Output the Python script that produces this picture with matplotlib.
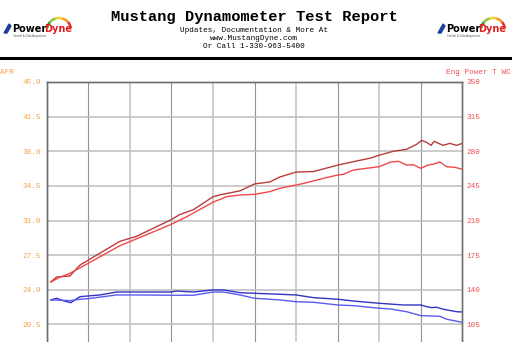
import matplotlib
matplotlib.use("Agg")
import matplotlib.pyplot as plt
from matplotlib.patches import Arc, Polygon
import numpy as np

# Dyno runs (RPM, value on the right-hand scale)
rpm_pwr_a = [2050, 2120, 2280, 2400, 2500, 2880, 3080, 3500, 3600, 3765, 4000, 4085, 4325,
             4500, 4685, 4805, 5000, 5210, 5500, 5690, 5890, 6000, 6170, 6330, 6450, 6510,
             6570, 6625, 6660, 6770, 6850, 6930, 7000]
pwr_a = [148, 153, 154, 165, 170, 189, 194, 211, 216, 221, 234, 236, 240,
         247, 249, 254, 259, 259.5, 266, 269.5, 273, 276, 280, 282, 287, 291,
         289, 286, 290, 286, 288, 286, 288]

rpm_pwr_b = [2050, 2160, 2280, 2500, 2880, 3000, 3500, 3685, 4000, 4165, 4325, 4500, 4685,
             4805, 5000, 5130, 5330, 5500, 5570, 5690, 6000, 6130, 6230, 6330, 6410, 6500,
             6590, 6650, 6730, 6810, 6910, 7000]
pwr_b = [148, 152.7, 156.7, 166.8, 184.6, 188.7, 206.2, 213.9, 228.5, 234.1, 235.8, 236.5, 239.2,
         242.6, 245.9, 248.3, 252.7, 256, 256.7, 261.1, 264.4, 268.9, 269.9, 266.1, 266.4, 262.8,
         266.1, 266.9, 269.2, 264.4, 263.8, 261.8]

rpm_blue_a = [2050, 2120, 2200, 2290, 2400, 2500, 2640, 2840, 3120, 3500, 3560, 3765, 4000,
              4125, 4325, 4500, 4805, 5000, 5210, 5500, 5690, 6000, 6290, 6500, 6570, 6630,
              6690, 6770, 6930, 7000]
blue_a = [129.8, 131.5, 129.0, 127.0, 133.1, 133.8, 134.8, 137.8, 137.8, 137.8, 138.8, 137.8, 139.9,
          139.9, 137.1, 136.5, 135.5, 134.8, 132.1, 130.5, 128.7, 126.4, 124.7, 124.7, 123.0, 122.0,
          122.4, 120.4, 117.9, 117.6]

rpm_blue_b = [2050, 2290, 2400, 2500, 2840, 3120, 3500, 3765, 4000, 4125, 4325, 4500, 4805,
              5000, 5210, 5500, 5690, 6000, 6130, 6330, 6500, 6730, 6810, 7000]
blue_b = [129.8, 129.1, 130.5, 131.1, 134.8, 134.8, 134.5, 134.5, 137.8, 137.8, 134.8, 131.5, 129.8,
          128.0, 127.4, 124.7, 124.0, 121.4, 120.7, 117.9, 113.9, 113.3, 110.3, 107.2]

afr_ticks = np.arange(20.5, 45.01, 3.5)
pwr_ticks = np.arange(105, 350.1, 35)
rpm_grid = np.arange(2500, 7000, 500)

W, H = 512, 342
fig = plt.figure(figsize=(W / 100, H / 100), dpi=100)
mono = "Liberation Mono"

# header
fig.text(254 / W, 1 - 17 / H, "Mustang Dynamometer Test Report", family=mono, weight="bold",
         fontsize=11.1, ha="center", va="center")
for i, s in enumerate(["Updates, Documentation & More At", "www.MustangDyne.com",
                       "Or Call 1-330-963-5400"]):
    fig.text(254 / W, 1 - (30.5 + 8.2 * i) / H, s, family=mono, fontsize=5.5,
             ha="center", va="center")
fig.add_artist(plt.Line2D([0, 1], [1 - 57.5 / H, 1 - 57.5 / H], color="black", lw=2.2))


def logo(x0):
    # simple stand-in for the PowerDyne logo, drawn in a 72x30 px box
    la = fig.add_axes([x0 / W, 1 - 42 / H, 72 / W, 30 / H])
    la.set_xlim(0, 72)
    la.set_ylim(0, 30)
    la.axis("off")
    cols = ["#2b9a3a", "#8cc63f", "#f2d22e", "#f39a1e", "#e5322d"]
    for k, c in enumerate(cols):
        la.add_patch(Arc((56, 12), 24, 24, theta1=170 - 32 * (k + 1),
                         theta2=170 - 32 * k, color=c, lw=1.8))
    la.add_patch(Polygon([[1, 9], [6, 18], [8, 16], [4, 9]], closed=True, color="#2040a0"))
    la.text(9, 13, "Power", fontsize=7, weight="bold", color="black", ha="left", va="center")
    la.text(41, 13, "Dyne", fontsize=7, weight="bold", color="#e02020", ha="left", va="center")
    la.text(10, 6, "Control & Data Acquisition", fontsize=1.8, color="#444444", ha="left",
            va="center")


logo(3)
logo(437)

ax = fig.add_axes([46.7 / W, 1 - 359.1 / H, 415.6 / W, 277.1 / H])
ax2 = ax.twinx()
ax.set_xlim(2000, 7000)
ax.set_ylim(17.0, 45.0)
ax2.set_ylim(70, 350)
ax.set_xticks([])
ax.set_yticks(afr_ticks)
ax2.set_yticks(pwr_ticks)
ax.set_yticklabels(["%.1f" % v for v in afr_ticks])
ax2.set_yticklabels(["%d" % v for v in pwr_ticks])
ax.tick_params(axis="y", length=0, pad=4, labelsize=5.5, labelcolor="#f5a24e")
ax2.tick_params(axis="y", length=0, pad=3, labelsize=5.5, labelcolor="#f05050")
for lab in ax.get_yticklabels() + ax2.get_yticklabels():
    lab.set_family(mono)
ax.grid(True, axis="y", color="#bdbdbd", lw=1.1)
for i, r in enumerate(rpm_grid):
    if i % 2 == 0:
        ax.axvline(r, color="#939393", lw=0.8, zorder=0.5)
    else:
        ax.axvline(r, color="#cacaca", lw=1.3, zorder=0.5)
for a in (ax, ax2):
    for sp in a.spines.values():
        sp.set_color("#707070")
        sp.set_linewidth(1.0)

ax2.plot(rpm_pwr_a, pwr_a, color="#b83c3c", lw=1.0)
ax2.plot(rpm_pwr_b, pwr_b, color="#f04848", lw=1.0)
ax2.plot(rpm_blue_a, blue_a, color="#3434c4", lw=1.0)
ax2.plot(rpm_blue_b, blue_b, color="#5a5af2", lw=1.0)

fig.text(0 / W, 1 - 73 / H, "AFR", family=mono, fontsize=5.5, color="#f5a24e",
         ha="left", va="center")
fig.text(511 / W, 1 - 73 / H, "Eng Power T WC", family=mono, fontsize=5.5, color="#f05050",
         ha="right", va="center")

fig.savefig("out.png", dpi=100)
